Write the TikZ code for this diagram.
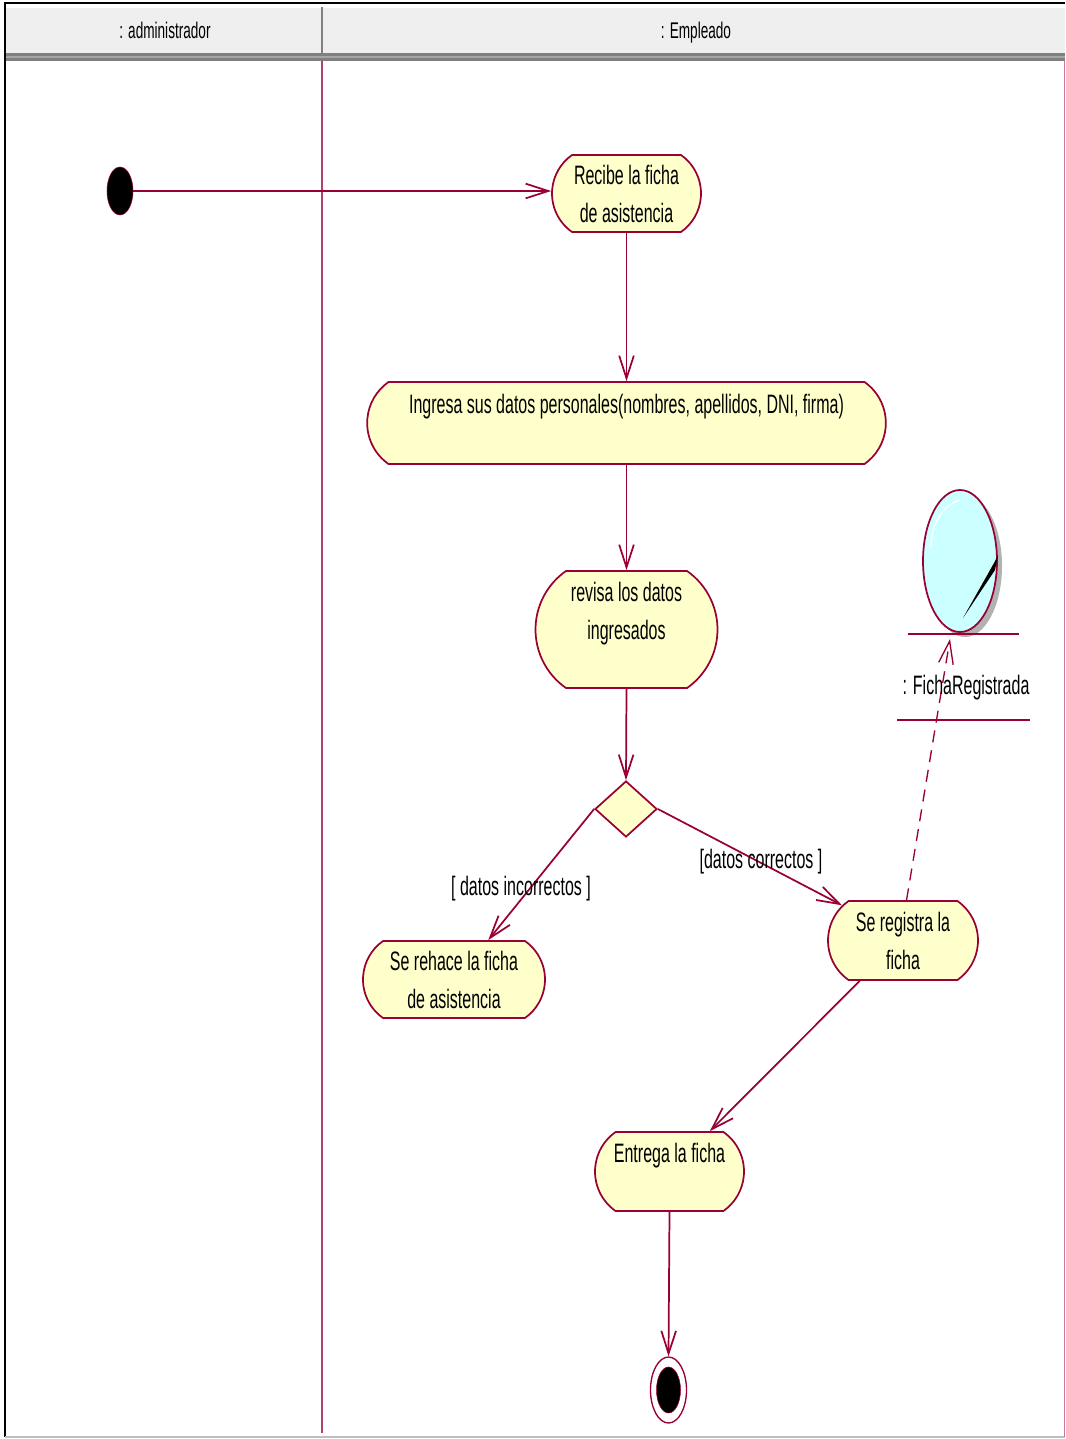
\documentclass[tikz,border=0pt]{standalone}
\usepackage{fontspec}
\setmainfont{Liberation Sans}[FakeStretch=0.6]
\usetikzlibrary{arrows.meta, shapes.geometric, shapes.misc}
\definecolor{linea}{HTML}{990033}
\definecolor{carril}{HTML}{B0406F}
\definecolor{crema}{HTML}{FFFFCC}
\definecolor{celeste}{HTML}{CCFFFF}
\definecolor{cabecera}{HTML}{EFEFEF}
\begin{document}
\begin{tikzpicture}[x=0.75pt, y=-0.75pt, >={Straight Barb[length=17pt, width=11pt]}, align=center]
\tikzstyle{a} = [rounded rectangle, rounded rectangle arc length=110, draw=linea, fill=crema, line width=1.3pt, inner sep=0pt, font=\fontsize{20}{28.5}\selectfont]
\tikzstyle{d} = [diamond, draw=linea, fill=crema, line width=1.3pt, inner sep=0pt, aspect=1.1, minimum width=46.5pt, minimum height=42pt]
\tikzstyle{e} = [draw=linea, line width=1.3pt, ->]
\tikzstyle{t} = [inner sep=0pt, font=\fontsize{20}{24}\selectfont]
\tikzstyle{h} = [inner sep=0pt, anchor=base, font=\fontsize{17}{20}\selectfont]
\useasboundingbox (0,0) rectangle (1065,1439);

% cabecera y carriles
\fill[cabecera] (5,8) rectangle (1065,53);
\fill[gray] (5,53) rectangle (1065,61);
\fill[black!35] (5,56) rectangle (1065,58);
\draw[black, line width=1.5pt] (5,1437) -- (5,3) -- (1065,3);
\draw[black!25, line width=1pt] (5,1437) -- (1065,1437);
\draw[gray, line width=1.5pt] (322,7) -- (322,53);
\draw[carril, line width=1pt] (322,61) -- (322,1433);
\draw[carril!70, line width=1pt] (1064.5,61) -- (1064.5,1437);
\node[h] (adm) at (165,38) {: administrador};
\node[h] (emp) at (696,38) {: Empleado};

% estados
\node[ellipse, draw=linea, fill=black, minimum width=19.5pt, minimum height=36pt, inner sep=0pt] (inicio) at (120,191) {};
\node[a, minimum width=111.75pt, minimum height=57.75pt] (recibe) at (626.5,193.5) {Recibe la ficha\\de asistencia};
\node[a, minimum width=389pt, minimum height=61.5pt] (ingresa) at (626.5,423) {Ingresa sus datos personales(nombres, apellidos, DNI, firma)\\\mbox{}};
\node[a, minimum width=136.5pt, minimum height=87.75pt] (revisa) at (626.5,629.5) {revisa los datos\\ingresados\\\mbox{}};
\node[d] (dec) at (626,809) {};
\node[a, minimum width=136.5pt, minimum height=57.75pt] (rehace) at (454,979.5) {Se rehace la ficha\\de asistencia};
\node[a, minimum width=112.5pt, minimum height=59.25pt] (registra) at (903,940.5) {Se registra la\\ficha};
\node[a, minimum width=111.75pt, minimum height=59.25pt] (entrega) at (669.5,1171.5) {Entrega la ficha\\\mbox{}};
\node[ellipse, draw=linea, line width=1pt, minimum width=27pt, minimum height=49.5pt, inner sep=0pt] (fin) at (668.5,1390) {};
\node[ellipse, draw=linea, fill=black, minimum width=18pt, minimum height=34.5pt, inner sep=0pt] (finc) at (668.5,1390) {};

% objeto
\node[ellipse, fill=black!30, minimum width=55.5pt, minimum height=106.5pt, inner sep=0pt] (sombra) at (965,566) {};
\node[ellipse, draw=linea, fill=celeste, line width=1.3pt, minimum width=55.5pt, minimum height=106.5pt, inner sep=0pt] (ficha) at (960,561) {};
\draw[white, line width=1pt] (960,500) .. controls (942,505) and (931,525) .. (931,547);
\fill[black] (963,618) -- (994,563) -- (998,555) -- (995,570) -- cycle;
\draw[linea, line width=1.4pt] (908,634) -- (1019,634);
\draw[linea, line width=1.4pt] (897,720) -- (1030,720);
\coordinate (fichaBase) at (950,639);

% transiciones
\draw[e] (inicio) -- (inicio -| recibe.west);
\draw[e] (recibe.south) -- (ingresa.north);
\draw[e] (ingresa.south) -- (revisa.north);
\draw[e] (revisa.south) -- (dec.north);
\draw[e] (dec.west) -- (rehace.49);
\draw[e] (dec.east) -- (registra.150);
\draw[e] (registra.223) -- (entrega.45);
\draw[e] (entrega.south) -- (fin.north);
\draw[e, dashed, line width=1pt, dash pattern=on 9pt off 6pt] (registra.85) -- (fichaBase);

% etiquetas
\node[t] (inc) at (521,889) {[ datos incorrectos ]};
\node[t] (cor) at (761,862) {[datos correctos ]};
\node[t] (fr) at (966,688) {: FichaRegistrada};
\end{tikzpicture}
\end{document}
